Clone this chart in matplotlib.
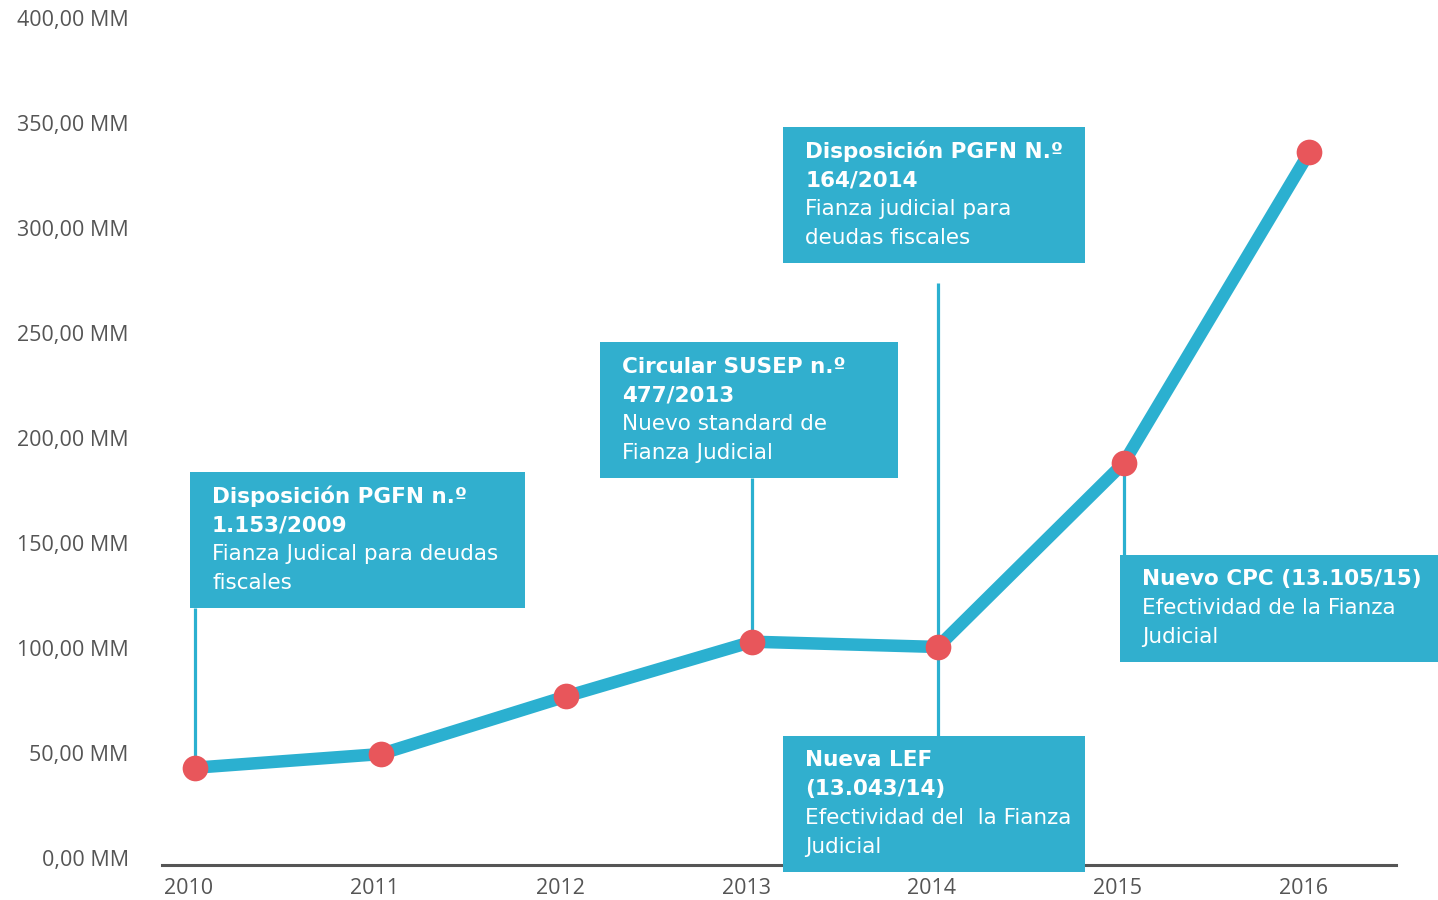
import matplotlib
matplotlib.use("Agg")
import matplotlib.pyplot as plt
from matplotlib.patches import Rectangle
import matplotlib.transforms as mtransforms

years = [2010, 2011, 2012, 2013, 2014, 2015, 2016]
values = [43, 49.5, 77, 103, 100.5, 188, 336]
y_ticks = [0, 50, 100, 150, 200, 250, 300, 350, 400]
y_labels = ["%d,00 MM" % v for v in y_ticks]

# annotation boxes: (x0, x1, top, bottom) in data units, title lines, body lines
notes = [
    ((2009.973, 2011.777, 183.8, 119.0),
     ["Disposición PGFN n.º", "1.153/2009"],
     ["Fianza Judical para deudas", "fiscales"]),
    ((2012.181, 2013.786, 245.7, 181.0),
     ["Circular SUSEP n.º", "477/2013"],
     ["Nuevo standard de", "Fianza Judicial"]),
    ((2013.167, 2014.793, 348.1, 283.3),
     ["Disposición PGFN N.º", "164/2014"],
     ["Fianza judicial para", "deudas fiscales"]),
    ((2013.167, 2014.793, 58.1, -6.7),
     ["Nueva LEF", "(13.043/14)"],
     ["Efectividad del  la Fianza", "Judicial"]),
    ((2014.982, 2016.70, 144.3, 93.3),
     ["Nuevo CPC (13.105/15)"],
     ["Efectividad de la Fianza", "Judicial"]),
]
# connector lines: (year, y_from, y_to)
connectors = [
    (2010, 119.0, 43),
    (2013, 181.0, 103),
    (2014, 273.8, 100.5),
    (2014, 100.5, 58.1),
    (2015, 188, 144.3),
]

CYAN = "#2bb0d0"
BOX = "#31afce"
RED = "#e8565b"
GREY = "#555555"

fig = plt.figure(figsize=(14.38, 9), dpi=100)
ax = fig.add_axes((162 / 1438, 35 / 900, 1234 / 1438, 847 / 900))
ax.set_xlim(2009.822, 2016.467)
ax.set_ylim(-3.33, 400)

for x, y0, y1 in connectors:
    ax.plot([x, x], [y0, y1], color=CYAN, lw=2.3, zorder=2, solid_capstyle="butt")

ax.plot(years, values, color=CYAN, lw=9, zorder=3, solid_joinstyle="miter")
ax.plot(years, values, "o", color=RED, ms=18.5, mec="none", zorder=4)

for (x0, x1, top, bot), title, body in notes:
    ax.add_patch(Rectangle((x0, bot), x1 - x0, top - bot, facecolor=BOX,
                           edgecolor="none", zorder=5, clip_on=False))
    lines = [(t, "bold") for t in title] + [(b, "normal") for b in body]
    for i, (txt, w) in enumerate(lines):
        tr = mtransforms.offset_copy(ax.transData, fig=fig, x=22, y=-(24.5 + 28.8 * i),
                                     units="dots")
        ax.text(x0, top, txt, transform=tr, color="white", fontsize=15.5,
                fontweight=w, family="DejaVu Sans", va="center", ha="left",
                zorder=6, clip_on=False)

for s in ["top", "right", "left"]:
    ax.spines[s].set_visible(False)
ax.spines["bottom"].set_color(GREY)
ax.spines["bottom"].set_linewidth(2.2)
ax.spines["bottom"].set_zorder(1)

ax.set_yticks(y_ticks)
ax.set_yticklabels(y_labels)
ax.set_xticks(years)
ax.set_xticklabels([str(y) for y in years])
ax.tick_params(length=0, labelcolor=GREY, labelsize=15.5)
ax.tick_params(axis="y", pad=24)
ax.tick_params(axis="x", pad=9)
shift = mtransforms.ScaledTranslation(-6 / 100, 0, fig.dpi_scale_trans)
for lab in ax.get_xticklabels():
    lab.set_transform(lab.get_transform() + shift)
for lab in ax.get_xticklabels() + ax.get_yticklabels():
    lab.set_family("Open Sans")

fig.savefig("out.png", dpi=100, facecolor="white")
